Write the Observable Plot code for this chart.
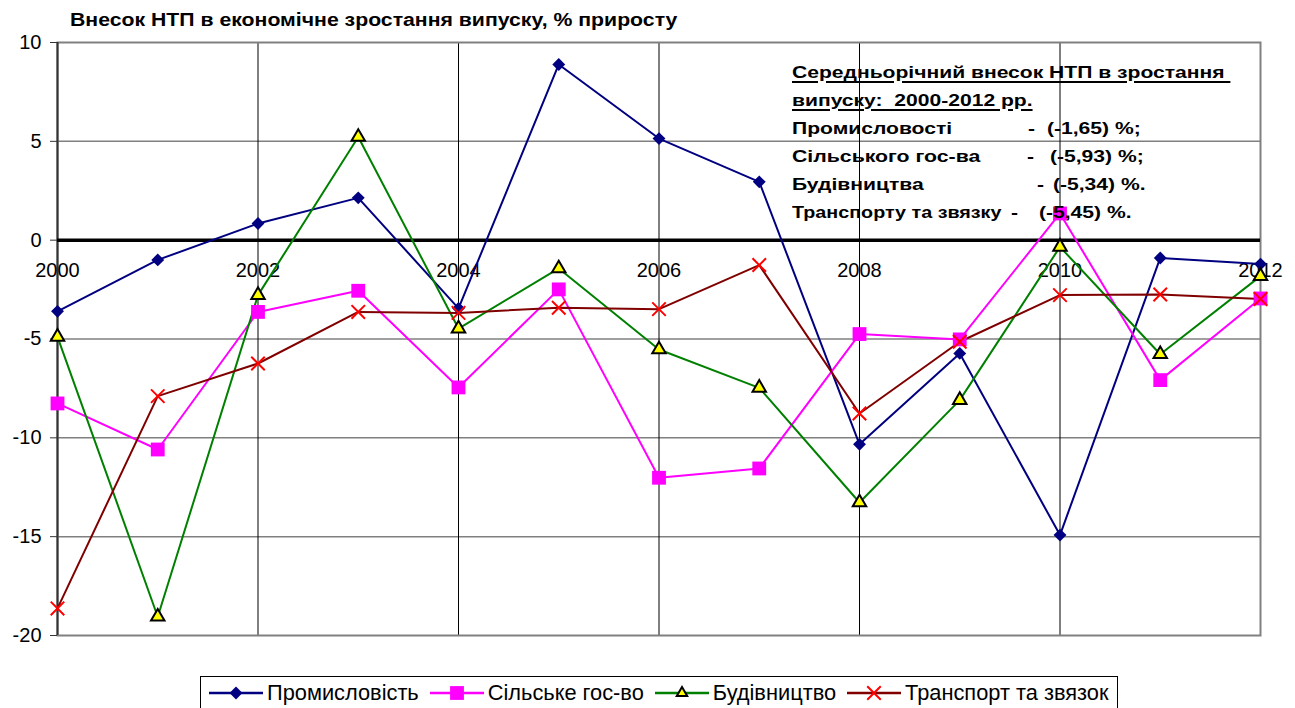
<!DOCTYPE html>
<html>
<head>
<meta charset="utf-8">
<script src="https://cdn.jsdelivr.net/npm/d3@7"></script>
<script src="https://cdn.jsdelivr.net/npm/@observablehq/plot@0.6"></script>
<style>
  html, body { margin: 0; padding: 0; background: #fff; }
  body { width: 1295px; height: 708px; position: relative; overflow: hidden; font-family: "Liberation Sans", Arial, sans-serif; }
  #title { height: 32px; box-sizing: border-box; padding-left: 70px; padding-top: 7px; font-weight: bold; font-size: 18px; line-height: 26px; color: #000; white-space: nowrap; }
  #title span { display: inline-block; transform: scaleX(1.18); transform-origin: 0 50%; }
  #chart svg { display: block; }
  #note { position: absolute; left: 792px; top: 59px; font-weight: bold; font-size: 17px; line-height: 28px; color: #000; }
  #note .row { position: relative; height: 28px; white-space: pre; }
  #note .row span { position: absolute; top: 0; transform-origin: 0 50%; }
  #note .u { text-decoration: underline; text-decoration-thickness: 2px; text-underline-offset: 3px; }
  #legend { position: absolute; left: 200px; top: 676px; width: 918px; height: 34px; box-sizing: border-box; border: 1px solid #000; display: flex; align-items: center; padding-left: 7px; font-size: 21.8px; color: #000; white-space: nowrap; }
  #legend .item { display: flex; align-items: center; margin-right: 10px; }
  #legend svg { display: block; margin-right: 3px; }
</style>
</head>
<body>
<div id="title"><span>Внесок НТП в економічне зростання випуску, % приросту</span></div>
<div id="chart"></div>
<div id="note"></div>
<div id="legend"></div>
<script>
// ---- data ----
const years = [2000, 2001, 2002, 2003, 2004, 2005, 2006, 2007, 2008, 2009, 2010, 2011, 2012];
const labelYears = [2000, 2002, 2004, 2006, 2008, 2010, 2012];
const yTicks = [-20, -15, -10, -5, 0, 5, 10];
const seriesNames = ["Промисловість", "Сільське гос-во", "Будівництво", "Транспорт та звязок"];
const industry = [-3.6, -1.0, 0.84, 2.14, -3.45, 8.89, 5.14, 2.95, -10.33, -5.73, -14.92, -0.9, -1.21];
const agriculture = [-8.26, -10.59, -3.63, -2.56, -7.45, -2.49, -12.02, -11.55, -4.75, -5.02, 1.35, -7.08, -2.95];
const construction = [-4.89, -19.05, -2.78, 5.22, -4.47, -1.43, -5.53, -7.47, -13.27, -8.09, -0.34, -5.77, -1.82];
const transport = [-18.63, -7.89, -6.24, -3.63, -3.68, -3.42, -3.49, -1.26, -8.77, -5.14, -2.78, -2.75, -2.98];
const noteHeader = ["Середньорічний внесок НТП в зростання ", "випуску:  2000-2012 рр."];
const noteLabels = ["Промисловості", "Сільського гос-ва", "Будівництва", "Транспорту та звязку"];
const noteValues = ["(-1,65) %;", "(-5,93) %;", "(-5,34) %.", "(-5,45) %."];

// ---- styles ----
const styles = [
  {line: "#000080", symbol: "diamond2", r: 5.8, fill: "#000080", stroke: "none", sw: 0},
  {line: "#FF00FF", symbol: "square", r: 7.8, fill: "#FF00FF", stroke: "none", sw: 0},
  {line: "#008000", symbol: "triangle", r: 5, fill: "#FFFF00", stroke: "#000", sw: 2},
  {line: "#800000", symbol: "times", r: 6.2, fill: "none", stroke: "#FF0000", sw: 2}
];
const valuesArr = [industry, agriculture, construction, transport];
const table = seriesNames.map((s, k) => years.map((yr, i) => ({series: s, year: yr, value: valuesArr[k][i]})));

const marks = [
  Plot.gridY(yTicks.filter(d => d !== 0 && d !== 10 && d !== -20), {stroke: "#808080", strokeOpacity: 1, strokeWidth: 1.5}),
  Plot.gridX(labelYears.filter(d => d !== 2000 && d !== 2012), {stroke: "#000", strokeOpacity: 1, strokeWidth: 1}),
  Plot.frame({stroke: "#808080", strokeWidth: 2}),
  Plot.ruleX([2000], {stroke: "#333", strokeWidth: 2}),
  Plot.axisY({ticks: yTicks, tickSize: 7, tickPadding: 9, label: null, fontSize: 20, stroke: "#333", tickFormat: d => String(d)}),
  Plot.ruleY([0], {stroke: "#000", strokeWidth: 3.5}),
  Plot.text(labelYears, {x: d => d, y: d => 0, dy: 30, text: d => String(d), fontSize: 20, fill: "#000"})
];
table.forEach((rows, k) => {
  const st = styles[k];
  marks.push(Plot.line(rows, {x: "year", y: "value", stroke: st.line, strokeWidth: 2}));
});
table.forEach((rows, k) => {
  const st = styles[k];
  marks.push(Plot.dot(rows, {x: "year", y: "value", symbol: st.symbol, r: st.r, fill: st.fill, stroke: st.stroke, strokeWidth: st.sw}));
});

const chart = Plot.plot({
  width: 1295,
  height: 608,
  marginLeft: 57,
  marginRight: 35,
  marginTop: 10,
  marginBottom: 5,
  x: {domain: [2000, 2012], axis: null},
  y: {domain: [-20, 10], axis: null},
  style: {fontFamily: "'Liberation Sans', Arial, sans-serif", fontSize: "20px", color: "#000", background: "transparent", overflow: "visible"},
  marks
});
document.getElementById("chart").appendChild(chart);

// ---- annotation ----
const note = document.getElementById("note");
noteHeader.forEach(t => {
  const row = document.createElement("div");
  row.className = "row";
  const s = document.createElement("span");
  s.className = "u";
  s.style.transform = "scaleX(1.24)";
  s.textContent = t;
  row.appendChild(s);
  note.appendChild(row);
});
const dashX = [236, 235, 245, 219];
const parenX = [255, 258, 261, 247];
const labelScale = [1.24, 1.25, 1.24, 1.16];
noteLabels.forEach((t, i) => {
  const row = document.createElement("div");
  row.className = "row";
  const a = document.createElement("span"); a.style.left = "0px"; a.textContent = t;
  a.style.transform = `scaleX(${labelScale[i]})`;
  const b = document.createElement("span"); b.style.left = dashX[i] + "px"; b.textContent = "-";
  b.style.transform = "scaleX(1.24)";
  const c = document.createElement("span"); c.style.left = parenX[i] + "px"; c.textContent = noteValues[i];
  c.style.transform = "scaleX(1.24)";
  row.append(a, b, c);
  note.appendChild(row);
});

// ---- legend ----
const legend = d3.select("#legend");
seriesNames.forEach((name, k) => {
  const st = styles[k];
  const item = legend.append("div").attr("class", "item");
  const svg = item.append("svg").attr("width", 56).attr("height", 20);
  svg.append("line").attr("x1", 1).attr("x2", 55).attr("y1", 10).attr("y2", 10).attr("stroke", st.line).attr("stroke-width", 2.5);
  const sym = {diamond2: d3.symbolDiamond2, square: d3.symbolSquare, triangle: d3.symbolTriangle2, times: d3.symbolTimes}[st.symbol];
  svg.append("path").attr("transform", "translate(28,10)")
    .attr("d", d3.symbol(sym, Math.PI * st.r * st.r)())
    .attr("fill", st.fill).attr("stroke", st.stroke).attr("stroke-width", st.sw);
  item.append("span").text(name);
});
</script>
</body>
</html>
